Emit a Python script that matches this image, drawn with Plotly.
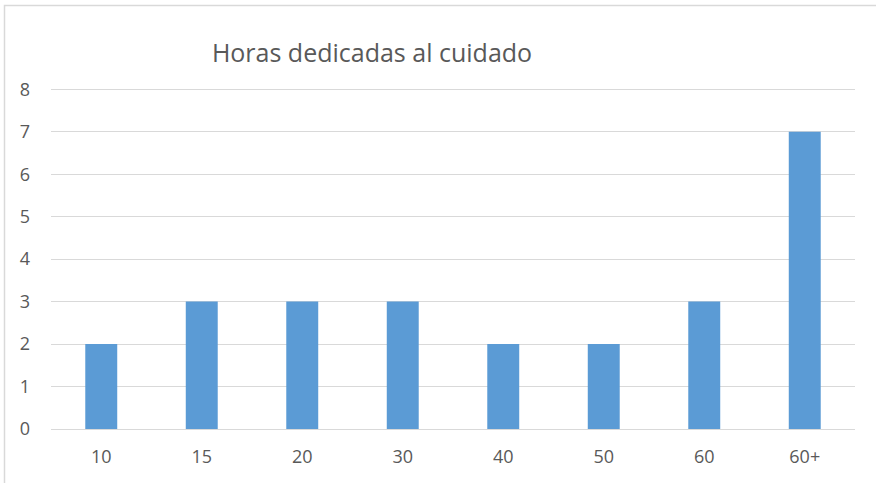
import plotly.graph_objects as go

categories = ["10", "15", "20", "30", "40", "50", "60", "60+"]
counts = [2, 3, 3, 3, 2, 2, 3, 7]
y_ticks = [0, 1, 2, 3, 4, 5, 6, 7, 8]

TEXT = "#595959"
GRID = "#D9D9D9"
FONT = "Open Sans, Noto Sans, sans-serif"

W, H = 876, 483
L, R, T, B = 51, 21, 88, 54
pw, ph = W - L - R, H - T - B

fig = go.Figure(
    go.Bar(
        x=categories,
        y=counts,
        marker=dict(color="#5B9BD5", line=dict(width=0)),
        hoverinfo="x+y",
    )
)

fig.update_layout(
    width=W,
    height=H,
    margin=dict(l=L, r=R, t=T, b=B),
    plot_bgcolor="white",
    paper_bgcolor="white",
    font=dict(family=FONT, size=18, color=TEXT),
    bargap=0.682,
    showlegend=False,
    title=dict(
        text="Horas dedicadas al cuidado",
        font=dict(family=FONT, size=25, color=TEXT),
        x=372 / W,
        xanchor="center",
        y=1 - 53 / H,
        yanchor="middle",
    ),
    shapes=[
        # outer chart frame (only left and top edges visible in the crop)
        dict(
            type="rect",
            xref="paper",
            yref="paper",
            x0=(4.5 - L) / pw,
            x1=(W + 10 - L) / pw,
            y0=-(B + 10) / ph,
            y1=(H - 5.5 - B) / ph,
            line=dict(color=GRID, width=1.5),
            layer="below",
        )
    ],
)
fig.update_xaxes(
    showgrid=False,
    showline=False,
    ticks="",
    ticklabelstandoff=15,
    tickfont=dict(size=18, color=TEXT),
)
fig.update_yaxes(
    # a little headroom so the gridline at 8 is not clipped at the edge
    range=[0, 8.03],
    tickvals=y_ticks,
    showgrid=True,
    gridcolor=GRID,
    gridwidth=1,
    zeroline=True,
    zerolinecolor=GRID,
    zerolinewidth=1,
    ticks="",
    ticklabelstandoff=20,
    tickfont=dict(size=18, color=TEXT),
)

# drop the default 8px page margin so the figure sits at the window origin
fig.write_html(
    "out.html",
    config={"displayModeBar": False},
    post_script="document.body.style.margin='0';",
)
